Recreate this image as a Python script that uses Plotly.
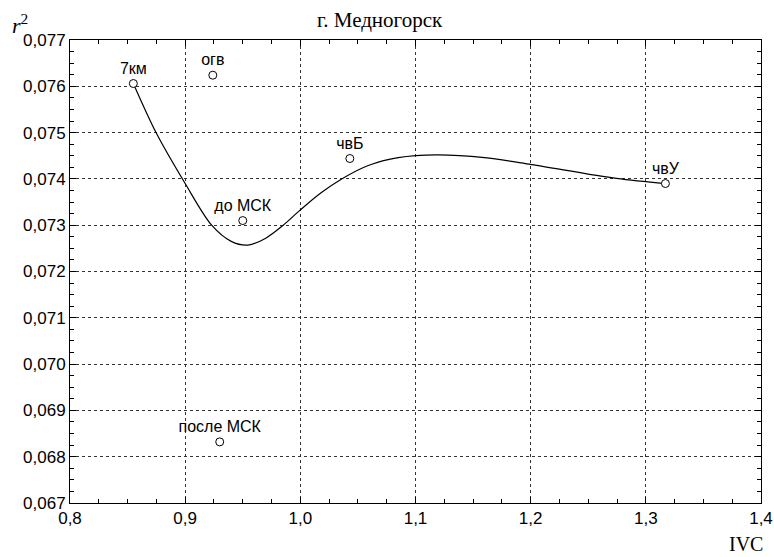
import plotly.graph_objects as go

# Data points (IVC, r^2)
labels = ["7км", "огв", "до МСК", "чвБ", "чвУ", "после МСК"]
ivc = [0.855, 0.924, 0.950, 1.043, 1.317, 0.930]
r2 = [0.07606, 0.07624, 0.07310, 0.07444, 0.07390, 0.06832]

# Smooth fitted curve
curve_x = [0.855, 0.8747, 0.900, 0.923, 0.940, 0.9545, 0.970, 0.9852, 1.000, 1.018, 1.0359, 1.059, 1.085, 1.1183, 1.160, 1.2008, 1.2746, 1.317]
curve_y = [0.07606, 0.07500, 0.07390, 0.07300, 0.07265, 0.07257, 0.07272, 0.07300, 0.07333, 0.07370, 0.07400, 0.07429, 0.07446, 0.07452, 0.07446, 0.07431, 0.07401, 0.07390]

x_ticks = [0.8, 0.9, 1.0, 1.1, 1.2, 1.3, 1.4]
y_ticks = [0.067, 0.068, 0.069, 0.070, 0.071, 0.072, 0.073, 0.074, 0.075, 0.076, 0.077]

fig = go.Figure()
fig.add_trace(go.Scatter(
    x=curve_x, y=curve_y, mode="lines",
    line=dict(color="black", width=1.2, shape="spline", smoothing=0.9),
    hoverinfo="skip", showlegend=False))
fig.add_trace(go.Scatter(
    x=ivc, y=r2, mode="markers+text", text=labels, textposition="top center",
    textfont=dict(family="Liberation Sans, Arial", size=16, color="black"),
    marker=dict(symbol="circle", size=8, color="white", line=dict(color="black", width=1)),
    showlegend=False))

axis_common = dict(
    showline=True, linecolor="black", linewidth=1, mirror="ticks",
    ticks="inside", ticklen=6, tickcolor="black",
    showgrid=True, gridcolor="#333333", griddash="dot", gridwidth=1,
    zeroline=False, automargin=False,
    tickfont=dict(family="Liberation Sans, Arial", size=17, color="black"),
)

fig.update_xaxes(range=[0.8, 1.4], tickvals=x_ticks, tickformat=".1f",
                 minor=dict(dtick=0.025, ticks="inside", ticklen=4, tickcolor="black", showgrid=False),
                 **axis_common)
fig.update_yaxes(range=[0.067, 0.077], tickvals=y_ticks, tickformat=".3f",
                 minor=dict(dtick=0.00025, ticks="inside", ticklen=4, tickcolor="black", showgrid=False),
                 **axis_common)

serif = "Liberation Serif, Times New Roman"
fig.update_layout(
    width=774, height=557,
    margin=dict(l=70, r=13, t=40, b=54),
    paper_bgcolor="white", plot_bgcolor="white",
    separators=", ",
    annotations=[
        dict(text="г. Медногорск", xref="paper", yref="paper", x=0.4486, y=1.043,
             xanchor="center", yanchor="middle", showarrow=False,
             font=dict(family=serif, size=21, color="black")),
        dict(text="<i>r</i><sup>2</sup>", xref="paper", yref="paper", x=-0.087, y=1.035,
             xanchor="left", yanchor="middle", showarrow=False,
             font=dict(family=serif, size=22, color="black")),
        dict(text="IVC", xref="paper", yref="paper", x=1.0058, y=-0.088,
             xanchor="right", yanchor="middle", showarrow=False,
             font=dict(family=serif, size=20, color="black")),
    ],
)

fig.write_html("out.html", config={"displayModeBar": False},
               post_script="document.body.style.margin='0px';document.body.style.overflow='hidden';")
